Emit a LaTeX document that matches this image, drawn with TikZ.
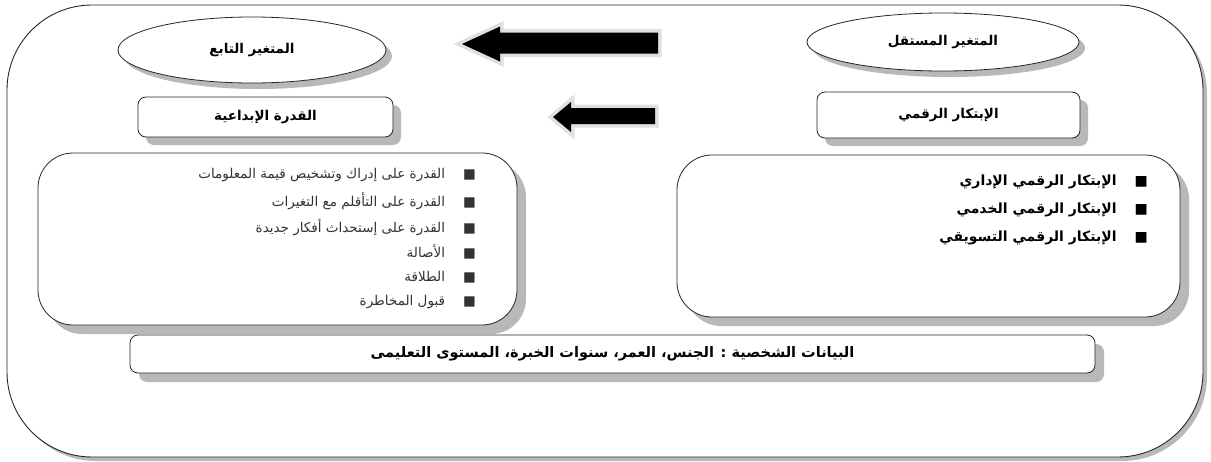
\documentclass[tikz,border=0pt]{standalone}
\usepackage{fontspec}
\newfontfamily\arabicfont[Script=Arabic]{DejaVu Sans}
\TeXXeTstate=1
\usetikzlibrary{shadows,shapes.geometric}
\tikzset{
  x=1pt, y=-1pt,
  sh/.style={drop shadow={shadow xshift=#1, shadow yshift=-#1, fill=black!28, opacity=1}},
  sh/.default=7pt,
  frame/.style={rectangle, rounded corners=85pt, draw=black!85, line width=0.9pt, fill=white, sh=4pt},
  ovalbox/.style={ellipse, draw=black!85, line width=0.8pt, fill=white, sh=6pt,
    font=\arabicfont\bfseries\fontsize{13.5}{16}\selectfont},
  titlebox/.style={rectangle, rounded corners=8pt, draw=black!85, line width=0.8pt, fill=white, sh=8pt,
    font=\arabicfont\bfseries\fontsize{13.5}{16}\selectfont},
  listbox/.style={rectangle, rounded corners=35pt, draw=black!85, line width=0.8pt, fill=white, sh=9pt},
  barbox/.style={rectangle, rounded corners=8pt, draw=black!85, line width=0.8pt, fill=white, sh=9pt,
    font=\arabicfont\bfseries\fontsize{14.5}{17}\selectfont},
  itemL/.style={anchor=east, inner sep=0pt, text=black!80, font=\arabicfont\fontsize{13.5}{15}\selectfont},
  itemR/.style={anchor=east, inner sep=0pt, text=black, font=\arabicfont\bfseries\fontsize{14}{16}\selectfont},
  blockarrow/.style={fill=black, line join=miter,
    drop shadow={shadow xshift=2pt, shadow yshift=-2pt, fill=black!25, opacity=1},
    preaction={draw=black!12, line width=7pt, line join=miter}},
}
\begin{document}
\begin{tikzpicture}
\useasboundingbox (0,0) rectangle (1211,461);

% outer frame
\node[frame, minimum width=1196pt, minimum height=452pt] (outer) at (605,231) {};

% ellipses
\node[ovalbox, minimum width=268pt, minimum height=66pt] (dep) at (252,50) {\beginR المتغير التابع\endR};
\node[ovalbox, minimum width=272pt, minimum height=58pt] (indep) at (943,42) {\beginR المتغير المستقل\endR};

% title boxes
\node[titlebox, minimum width=255pt, minimum height=40pt] (creat) at (265.5,117) {\beginR القدرة الإبداعية\endR};
\node[titlebox, minimum width=263pt, minimum height=46pt] (innov) at (948.5,115) {\beginR الإبتكار الرقمي\endR};

% block arrows
\path[blockarrow] (462,44) -- (500,26.5) -- (500,32.5) -- (658,32.5) -- (658,53.5) -- (500,53.5) -- (500,61.5) -- cycle;
\path[blockarrow] (553,117) -- (571,102) -- (571,108) -- (655,108) -- (655,124) -- (571,124) -- (571,132) -- cycle;

% list boxes
\node[listbox, minimum width=479pt, minimum height=172pt] (leftbox) at (277.5,239) {};
\node[listbox, minimum width=503pt, minimum height=162pt] (rightbox) at (928.5,236) {};

% left list
\node[itemL] (l1) at (476,175) {\beginR ■\hspace{18pt}القدرة على إدراك وتشخيص قيمة المعلومات\endR};
\node[itemL] (l2) at (476,201) {\beginR ■\hspace{18pt}القدرة على التأقلم مع التغيرات\endR};
\node[itemL] (l3) at (476,227) {\beginR ■\hspace{18pt}القدرة على إستحداث أفكار جديدة\endR};
\node[itemL] (l4) at (476,252) {\beginR ■\hspace{18pt}الأصالة\endR};
\node[itemL] (l5) at (476,277) {\beginR ■\hspace{18pt}الطلاقة\endR};
\node[itemL] (l6) at (476,302) {\beginR ■\hspace{18pt}قبول المخاطرة\endR};

% right list
\node[itemR] (r1) at (1148,182) {\beginR ■\hspace{18pt}الإبتكار الرقمي الإداري\endR};
\node[itemR] (r2) at (1148,210) {\beginR ■\hspace{18pt}الإبتكار الرقمي الخدمي\endR};
\node[itemR] (r3) at (1148,238) {\beginR ■\hspace{18pt}الإبتكار الرقمي التسويقي\endR};

% bottom bar
\node[barbox, minimum width=965pt, minimum height=38pt] (bar) at (612.5,354) {\beginR البيانات الشخصية : الجنس، العمر، سنوات الخبرة، المستوى التعليمى\endR};
\end{tikzpicture}
\end{document}
